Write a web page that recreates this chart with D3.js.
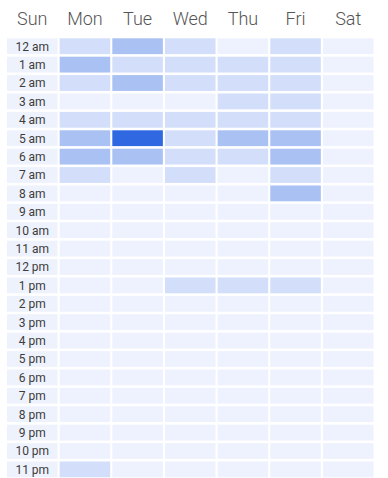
<!DOCTYPE html>
<html>
<head>
<meta charset="utf-8">
<script src="https://cdn.jsdelivr.net/npm/d3@7"></script>
<style>
  html, body { margin: 0; padding: 0; background: #fff; }
  svg { display: block; font-family: Roboto, "Noto Sans", sans-serif; }
</style>
</head>
<body>
<svg id="chart" width="388" height="478"></svg>
<script>
// Week header and hour rows
const days = ["Sun", "Mon", "Tue", "Wed", "Thu", "Fri", "Sat"];
const hours = ["12 am", "1 am", "2 am", "3 am", "4 am", "5 am", "6 am", "7 am",
  "8 am", "9 am", "10 am", "11 am", "12 pm", "1 pm", "2 pm", "3 pm", "4 pm",
  "5 pm", "6 pm", "7 pm", "8 pm", "9 pm", "10 pm", "11 pm"];

// Activity counts per hour (12 am .. 11 pm) for each day column
const mon = [2, 5, 2, 0, 2, 5, 5, 2, 0, 0, 0, 0, 0, 0, 0, 0, 0, 0, 0, 0, 0, 0, 0, 2];
const tue = [5, 2, 5, 0, 2, 14, 5, 0, 0, 0, 0, 0, 0, 0, 0, 0, 0, 0, 0, 0, 0, 0, 0, 0];
const wed = [2, 2, 2, 0, 2, 2, 2, 2, 0, 0, 0, 0, 0, 2, 0, 0, 0, 0, 0, 0, 0, 0, 0, 0];
const thu = [0, 2, 2, 2, 2, 5, 2, 0, 0, 0, 0, 0, 0, 2, 0, 0, 0, 0, 0, 0, 0, 0, 0, 0];
const fri = [2, 2, 2, 2, 2, 5, 5, 2, 5, 0, 0, 0, 0, 2, 0, 0, 0, 0, 0, 0, 0, 0, 0, 0];
const sat = [0, 0, 0, 0, 0, 0, 0, 0, 0, 0, 0, 0, 0, 0, 0, 0, 0, 0, 0, 0, 0, 0, 0, 0];

const series = [
  { day: "Mon", values: mon },
  { day: "Tue", values: tue },
  { day: "Wed", values: wed },
  { day: "Thu", values: thu },
  { day: "Fri", values: fri },
  { day: "Sat", values: sat }
];

const cells = [];
series.forEach(s => s.values.forEach((v, i) => cells.push({ day: s.day, hour: hours[i], value: v })));

const svg = d3.select("#chart");

const x = d3.scaleBand().domain(days).range([7, 373.5]).paddingInner(0.04);
const y = d3.scaleBand().domain(hours).range([38.3, 477.3]).paddingInner(0.14);
const color = d3.scaleLinear().domain([0, 14]).range(["#eef2fe", "#2f68e0"]).interpolate(d3.interpolateRgb);

// Day header
svg.append("g")
  .selectAll("text")
  .data(days)
  .join("text")
  .attr("x", d => x(d) + x.bandwidth() / 2)
  .attr("y", 25)
  .attr("text-anchor", "middle")
  .attr("font-size", 18)
  .attr("font-weight", 300)
  .attr("fill", "#555")
  .text(d => d);

// Hour label column (sits in the first column)
const labels = svg.append("g");
labels.selectAll("rect")
  .data(hours)
  .join("rect")
  .attr("x", x("Sun"))
  .attr("y", d => y(d))
  .attr("width", x.bandwidth())
  .attr("height", y.bandwidth())
  .attr("fill", "#eef2fd");
labels.selectAll("text")
  .data(hours)
  .join("text")
  .attr("x", x("Sun") + x.bandwidth() / 2)
  .attr("y", d => y(d) + y.bandwidth() / 2)
  .attr("dy", "0.36em")
  .attr("text-anchor", "middle")
  .attr("font-size", 12)
  .attr("fill", "#3c3c3c")
  .text(d => d);

// Heat cells
svg.append("g")
  .selectAll("rect")
  .data(cells)
  .join("rect")
  .attr("x", d => x(d.day))
  .attr("y", d => y(d.hour))
  .attr("width", x.bandwidth())
  .attr("height", y.bandwidth())
  .attr("fill", d => color(d.value));
</script>
</body>
</html>
